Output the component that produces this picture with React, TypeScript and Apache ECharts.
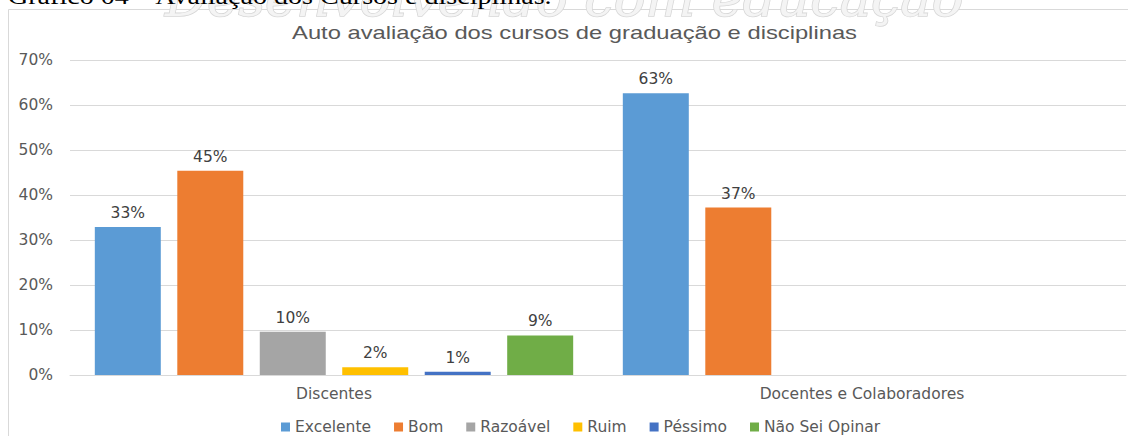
import React, { useEffect, useRef } from "react";
import * as echarts from "echarts";

const categories = ["Discentes", "Docentes e Colaboradores"];
const seriesNames = ["Excelente", "Bom", "Razoável", "Ruim", "Péssimo", "Não Sei Opinar"];
const excelente = [0.329, 0.626];
const bom = [0.454, 0.372];
const razoavel = [0.096, null];
const ruim = [0.017, null];
const pessimo = [0.007, null];
const naoSei = [0.088, null];
const colors = ["#5B9BD5", "#ED7D31", "#A5A5A5", "#FFC000", "#4472C4", "#70AD47"];
const yTicks = [0, 0.1, 0.2, 0.3, 0.4, 0.5, 0.6, 0.7];

const titleText = "Auto avaliação dos cursos de graduação e disciplinas";
const captionText = "Gráfico 04 – Avaliação dos Cursos e disciplinas.";
const watermarkText = "Desenvolvendo com educação";

const FONT = '"DejaVu Sans", "Liberation Sans", Arial, sans-serif';

export default function App() {
  const ref = useRef<HTMLDivElement>(null);
  useEffect(() => {
    document.body.style.margin = "0";
    const chart = echarts.init(ref.current!, null, { renderer: "svg" });
    const values = [excelente, bom, razoavel, ruim, pessimo, naoSei];
    chart.setOption({
      animation: false,
      backgroundColor: "#ffffff",
      textStyle: { fontFamily: FONT },
      grid: { left: 70, right: 2, top: 60, bottom: 61, containLabel: false },
      xAxis: {
        type: "category",
        data: categories,
        axisLine: { show: true, lineStyle: { color: "#d9d9d9", width: 1 } },
        axisTick: { show: false },
        axisLabel: { color: "#595959", fontSize: 15.5, margin: 11, fontFamily: FONT },
      },
      yAxis: {
        type: "value",
        min: yTicks[0],
        max: yTicks[yTicks.length - 1],
        interval: 0.1,
        axisLine: { show: false },
        axisTick: { show: false },
        splitLine: { lineStyle: { color: "#d9d9d9", width: 1 } },
        axisLabel: {
          color: "#595959",
          fontSize: 15.5,
          margin: 17,
          fontFamily: FONT,
          formatter: (v: number) => Math.round(v * 100) + "%",
        },
      },
      legend: {
        data: seriesNames,
        left: 276,
        top: 414,
        itemWidth: 9,
        itemHeight: 9,
        itemGap: 23,
        icon: "rect",
        textStyle: { color: "#595959", fontSize: 15.5, fontFamily: FONT },
      },
      graphic: [
        {
          type: "rect",
          shape: { x: 8.5, y: 9.5, width: 1130, height: 440 },
          style: { fill: "none", stroke: "#d9d9d9", lineWidth: 1 },
          silent: true,
        },
        {
          type: "text",
          x: 165,
          y: 23,
          scaleX: 1.05,
          style: {
            text: watermarkText,
            font: 'italic 50px "DejaVu Serif", serif',
            fill: "#f4f4f4",
            stroke: "#d6d6d6",
            lineWidth: 1.5,
            textVerticalAlign: "bottom",
          },
          silent: true,
        },
        {
          type: "text",
          x: 8,
          y: 8,
          scaleX: 1.17,
          style: {
            text: captionText,
            font: '24px "Liberation Serif", "Times New Roman", serif',
            fill: "#000000",
            textVerticalAlign: "bottom",
          },
          silent: true,
        },
        {
          type: "text",
          x: 574.5,
          y: 33,
          scaleX: 1.25,
          style: {
            text: titleText,
            font: '19px "Liberation Sans", Arial, sans-serif',
            fill: "#595959",
            textAlign: "center",
            textVerticalAlign: "middle",
          },
          silent: true,
        },
      ],
      series: seriesNames.map((name, i) => ({
        name,
        type: "bar",
        data: values[i],
        barGap: "25%",
        barCategoryGap: "9.4%",
        itemStyle: { color: colors[i] },
        label: {
          show: true,
          position: "top",
          distance: 6,
          color: "#404040",
          fontSize: 15.5,
          fontFamily: FONT,
          formatter: (p: any) => (p.value == null ? "" : Math.round(p.value * 100) + "%"),
        },
      })),
    });
    return () => chart.dispose();
  }, []);
  return <div ref={ref} style={{ width: 1128, height: 436 }} />;
}
